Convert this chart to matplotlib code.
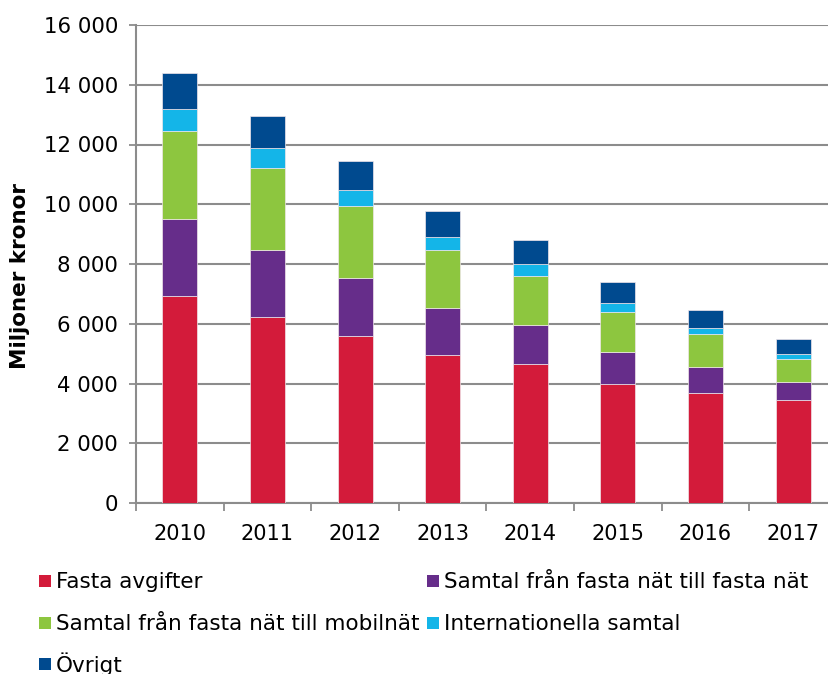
import matplotlib

matplotlib.use("Agg")

import matplotlib.pyplot as plt
import numpy as np
from matplotlib.patches import Rectangle
from matplotlib.ticker import FuncFormatter

years = ["2010", "2011", "2012", "2013", "2014", "2015", "2016", "2017"]

fasta_avgifter = [6940, 6220, 5585, 4945, 4645, 3985, 3670, 3435]
fasta_till_fasta = [2580, 2240, 1945, 1590, 1320, 1060, 875, 615]
fasta_till_mobil = [2930, 2765, 2405, 1935, 1645, 1350, 1105, 785]
internationella = [740, 645, 550, 445, 395, 300, 220, 160]
ovrigt = [1210, 1070, 960, 875, 805, 715, 595, 490]

series = [
    ("Fasta avgifter", fasta_avgifter, "#d31b3a"),
    ("Samtal från fasta nät till fasta nät", fasta_till_fasta, "#662d8a"),
    ("Samtal från fasta nät till mobilnät", fasta_till_mobil, "#8dc63f"),
    ("Internationella samtal", internationella, "#14b5e8"),
    ("Övrigt", ovrigt, "#004a8f"),
]

plt.rcParams["font.family"] = ["DejaVu Sans"]

W, H = 829, 674
fig = plt.figure(figsize=(W / 100, H / 100), dpi=100)
ax = fig.add_axes([136 / W, (H - 503) / H, (837 - 136) / W, 478 / H])

x = np.arange(len(years))
bottom = np.zeros(len(years))
for label, values, color in series:
    ax.bar(x, values, width=0.4, bottom=bottom, color=color,
           edgecolor="#f0e6ea", linewidth=0.5, zorder=3, label=label)
    bottom += np.array(values)

ax.set_xlim(-0.5, 7.5)
ax.set_ylim(0, 16000)
ax.set_yticks(np.arange(0, 16001, 2000))
ax.yaxis.set_major_formatter(
    FuncFormatter(lambda v, _: f"{int(v):,}".replace(",", " "))
)
ax.set_xticks(x)
ax.set_xticklabels(years)
ax.set_xticks(np.arange(-0.5, 7.5, 1), minor=True)
ax.tick_params(axis="x", which="major", length=0, pad=15, labelsize=15)
ax.tick_params(axis="x", which="minor", length=6, width=1.3, color="#8c8c8c")
ax.tick_params(axis="y", length=5, width=1.3, color="#8c8c8c", labelsize=15.3, pad=8)

ax.grid(axis="y", color="#8c8c8c", linewidth=1.5, zorder=0)
ax.set_axisbelow(True)
for side in ("top", "right"):
    ax.spines[side].set_visible(False)
for side in ("left", "bottom"):
    ax.spines[side].set_color("#8c8c8c")
    ax.spines[side].set_linewidth(1.5)

ax.set_ylabel("Miljoner kronor", fontsize=15.5, fontweight="bold")
ax.yaxis.set_label_coords(30 / W, (H - 276) / H, transform=fig.transFigure)

# legend drawn by hand: two columns, entries read row by row
col_x = [39, 427]
row_y = [581, 623, 664]
box = 12
for i, (label, _, color) in enumerate(series):
    row, col = divmod(i, 2)
    cx, cy = col_x[col], row_y[row]
    fig.patches.append(Rectangle(
        (cx / W, (H - cy - box / 2) / H), box / W, box / H,
        transform=fig.transFigure, facecolor=color, edgecolor="none",
    ))
    fig.text((cx + box + 5) / W, (H - cy - 7.5) / H, label,
             fontsize=15.5, va="baseline", ha="left")

fig.savefig("out.png", dpi=100)
